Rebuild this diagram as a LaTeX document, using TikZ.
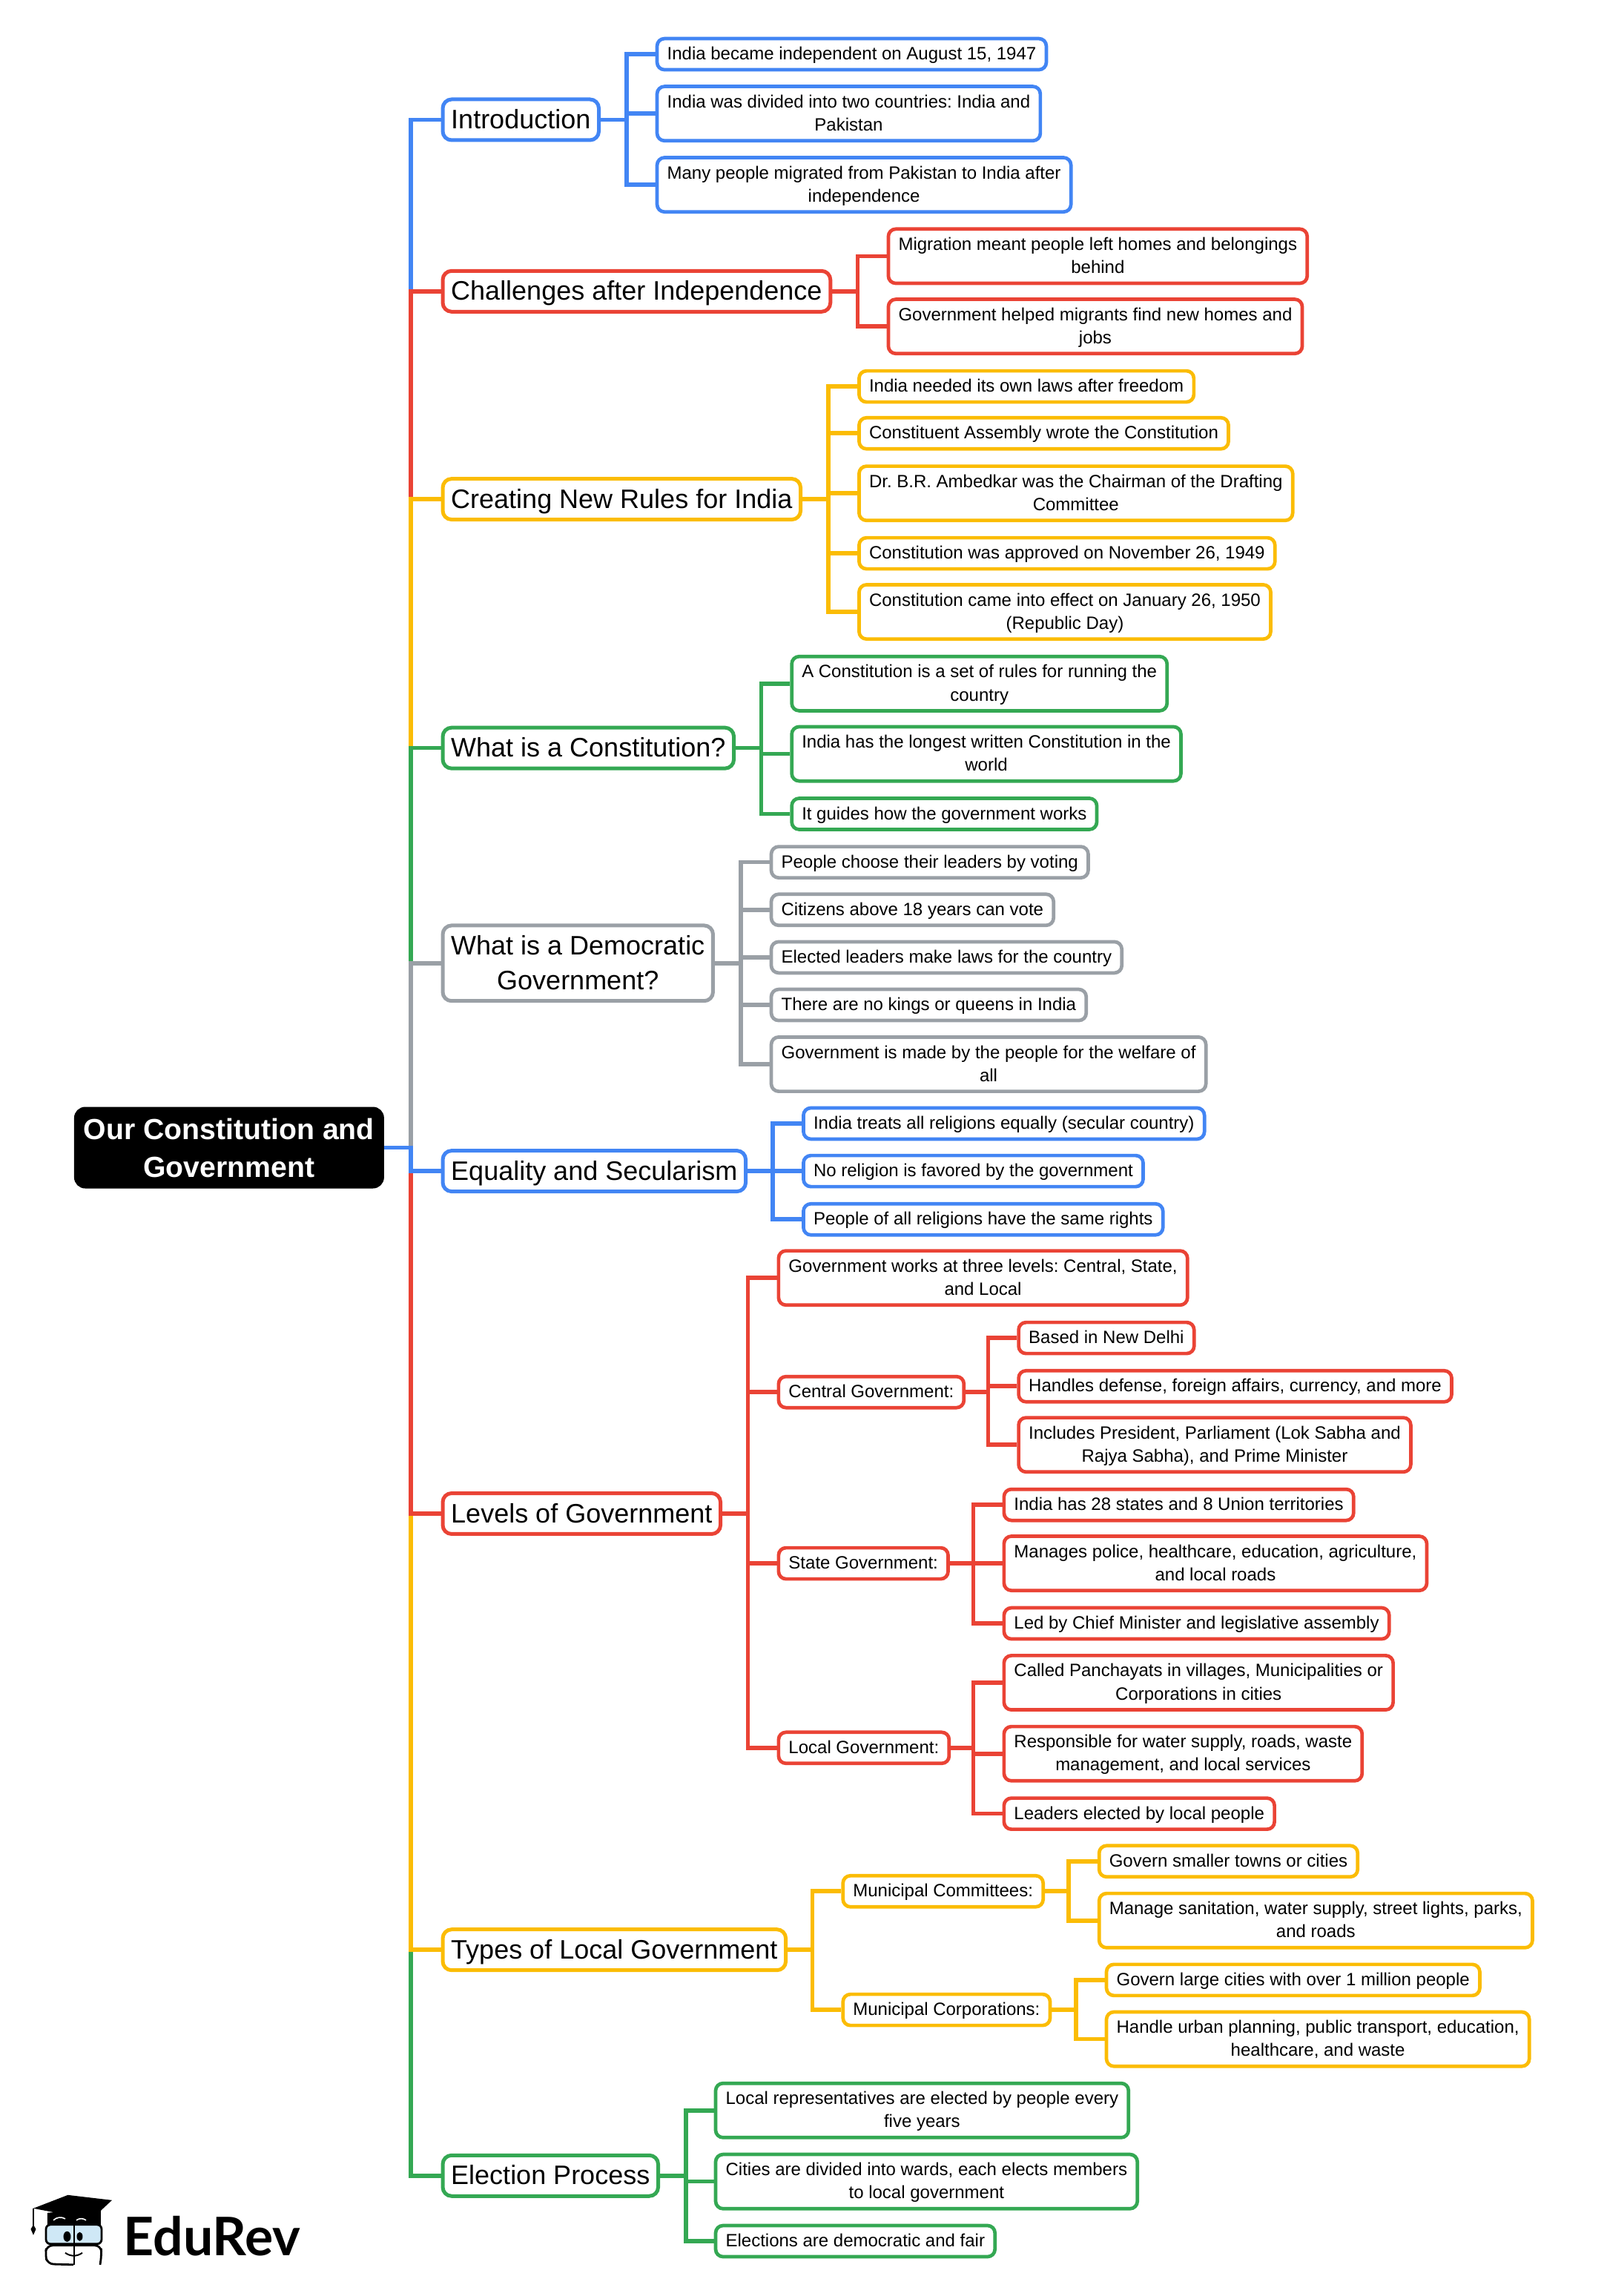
\documentclass[tikz,border=0pt]{standalone}
\usepackage{fontspec}
\setmainfont{Liberation Sans}
\newfontfamily\logofont{Lato}
\usetikzlibrary{positioning}
\definecolor{mmblue}{HTML}{4285F4}
\definecolor{mmred}{HTML}{EA4335}
\definecolor{mmyellow}{HTML}{FBBC04}
\definecolor{mmgreen}{HTML}{34A853}
\definecolor{mmgray}{HTML}{9AA0A6}
\definecolor{mmface}{HTML}{CFE8F6}
% first line height of topic and leaf boxes
\newcommand{\tl}{\rule{0pt}{16.1pt}}
\newcommand{\lf}{\rule{0pt}{10.3pt}}

\begin{document}
\frenchspacing
\begin{tikzpicture}[x=0.987pt, y=-0.987pt,
                rootbox/.style={draw=black, fill=black, text=white, line width=1pt, rounded corners=7pt, align=center,
                    inner xsep=3pt, inner ysep=1pt, font=\fontsize{19.6}{25.5}\selectfont\bfseries},
                topic/.style={draw=#1, fill=white, line width=2.5pt, rounded corners=6pt, anchor=west, align=center,
                    inner xsep=5.6pt, inner ysep=3.7pt, font=\fontsize{18}{23.4}\selectfont,
                    execute at end node={\rule[-4pt]{0pt}{4pt}}},
                leaf/.style={draw=#1, fill=white, line width=2.35pt, rounded corners=5pt, anchor=west, align=center,
                    inner xsep=6.8pt, inner ysep=4pt, font=\fontsize{12}{15.6}\selectfont,
                    execute at end node={\rule[-2.7pt]{0pt}{2.7pt}}},
                conn/.style={draw=#1, line width=2.8pt}]

    \useasboundingbox (0,0) rectangle (1097.4,1568.5);

    % Root
    \node[rootbox, minimum width=208pt, minimum height=54pt] (root) at (156.5,784) {Our Constitution and\\Government};
    \coordinate (trunk) at (280.8,784);

    % Main topics
    \node[topic=mmblue] (intro) at (301.2,81.8) {\tl Introduction};
    \node[topic=mmred] (chall) at (301.2,199) {\tl Challenges after Independence};
    \node[topic=mmyellow] (rules) at (301.2,341) {\tl Creating New Rules for India};
    \node[topic=mmgreen] (consti) at (301.2,511) {\tl What is a Constitution?};
    \node[topic=mmgray] (democ) at (301.2,658) {\tl What is a Democratic\\Government?};
    \node[topic=mmblue] (equal) at (301.2,800) {\tl Equality and Secularism};
    \node[topic=mmred] (levels) at (301.2,1034) {\tl Levels of Government};
    \node[topic=mmyellow] (types) at (301.2,1332) {\tl Types of Local Government};
    \node[topic=mmgreen] (elect) at (301.2,1486.3) {\tl Election Process};

    % Introduction
    \coordinate (introbar) at (428,81.8);
    \node[leaf=mmblue] (intro1) at (447.7,37) {\lf India became independent on August 15, 1947};
    \node[leaf=mmblue] (intro2) at (447.7,77.6) {\lf India was divided into two countries: India and\\Pakistan};
    \node[leaf=mmblue] (intro3) at (447.7,126.2) {\lf Many people migrated from Pakistan to India after\\independence};

    % Challenges
    \coordinate (challbar) at (586,199);
    \node[leaf=mmred] (chall1) at (605.7,175) {\lf Migration meant people left homes and belongings\\behind};
    \node[leaf=mmred] (chall2) at (605.7,223) {\lf Government helped migrants find new homes and\\jobs};

    % New rules
    \coordinate (rulesbar) at (566,341);
    \node[leaf=mmyellow] (rules1) at (585.7,264) {\lf India needed its own laws after freedom};
    \node[leaf=mmyellow] (rules2) at (585.7,296) {\lf Constituent Assembly wrote the Constitution};
    \node[leaf=mmyellow] (rules3) at (585.7,337) {\lf Dr. B.R. Ambedkar was the Chairman of the Drafting\\Committee};
    \node[leaf=mmyellow] (rules4) at (585.7,378) {\lf Constitution was approved on November 26, 1949};
    \node[leaf=mmyellow] (rules5) at (585.7,418) {\lf Constitution came into effect on January 26, 1950\\(Republic Day)};

    % Constitution
    \coordinate (constibar) at (520,511);
    \node[leaf=mmgreen] (consti1) at (539.7,467) {\lf A Constitution is a set of rules for running the\\country};
    \node[leaf=mmgreen] (consti2) at (539.7,515) {\lf India has the longest written Constitution in the\\world};
    \node[leaf=mmgreen] (consti3) at (539.7,556) {\lf It guides how the government works};

    % Democratic government
    \coordinate (democbar) at (506,658);
    \node[leaf=mmgray] (democ1) at (525.7,589) {\lf People choose their leaders by voting};
    \node[leaf=mmgray] (democ2) at (525.7,621.5) {\lf Citizens above 18 years can vote};
    \node[leaf=mmgray] (democ3) at (525.7,654) {\lf Elected leaders make laws for the country};
    \node[leaf=mmgray] (democ4) at (525.7,686.5) {\lf There are no kings or queens in India};
    \node[leaf=mmgray] (democ5) at (525.7,727) {\lf Government is made by the people for the welfare of\\all};

    % Equality
    \coordinate (equalbar) at (528,800);
    \node[leaf=mmblue] (equal1) at (547.7,767.5) {\lf India treats all religions equally (secular country)};
    \node[leaf=mmblue] (equal2) at (547.7,800) {\lf No religion is favored by the government};
    \node[leaf=mmblue] (equal3) at (547.7,833) {\lf People of all religions have the same rights};

    % Levels
    \coordinate (levelsbar) at (511,1034);
    \node[leaf=mmred] (levels1) at (530.7,873) {\lf Government works at three levels: Central, State,\\and Local};
    \node[leaf=mmred] (central) at (530.7,951) {\lf Central Government:};
    \node[leaf=mmred] (state) at (530.7,1068) {\lf State Government:};
    \node[leaf=mmred] (local) at (530.7,1194) {\lf Local Government:};

    \coordinate (centralbar) at (675,951);
    \node[leaf=mmred] (central1) at (694.7,914) {\lf Based in New Delhi};
    \node[leaf=mmred] (central2) at (694.7,947) {\lf Handles defense, foreign affairs, currency, and more};
    \node[leaf=mmred] (central3) at (694.7,987) {\lf Includes President, Parliament (Lok Sabha and\\Rajya Sabha), and Prime Minister};

    \coordinate (statebar) at (665,1068);
    \node[leaf=mmred] (state1) at (684.7,1028) {\lf India has 28 states and 8 Union territories};
    \node[leaf=mmred] (state2) at (684.7,1068) {\lf Manages police, healthcare, education, agriculture,\\and local roads};
    \node[leaf=mmred] (state3) at (684.7,1109) {\lf Led by Chief Minister and legislative assembly};

    \coordinate (localbar) at (665,1194);
    \node[leaf=mmred] (local1) at (684.7,1149.5) {\lf Called Panchayats in villages, Municipalities or\\Corporations in cities};
    \node[leaf=mmred] (local2) at (684.7,1198) {\lf Responsible for water supply, roads, waste\\management, and local services};
    \node[leaf=mmred] (local3) at (684.7,1239) {\lf Leaders elected by local people};

    % Local government types
    \coordinate (typesbar) at (555,1332);
    \node[leaf=mmyellow] (commit) at (574.7,1292) {\lf Municipal Committees:};
    \node[leaf=mmyellow] (corpor) at (574.7,1373) {\lf Municipal Corporations:};

    \coordinate (commitbar) at (730,1292);
    \node[leaf=mmyellow] (commit1) at (749.7,1271.5) {\lf Govern smaller towns or cities};
    \node[leaf=mmyellow] (commit2) at (749.7,1312) {\lf Manage sanitation, water supply, street lights, parks,\\and roads};

    \coordinate (corporbar) at (735,1373);
    \node[leaf=mmyellow] (corpor1) at (754.7,1352.6) {\lf Govern large cities with over 1 million people};
    \node[leaf=mmyellow] (corpor2) at (754.7,1393) {\lf Handle urban planning, public transport, education,\\healthcare, and waste};

    % Election
    \coordinate (electbar) at (468.5,1486.3);
    \node[leaf=mmgreen] (elect1) at (487.7,1441.7) {\lf Local representatives are elected by people every\\five years};
    \node[leaf=mmgreen] (elect2) at (487.7,1490.3) {\lf Cities are divided into wards, each elects members\\to local government};
    \node[leaf=mmgreen] (elect3) at (487.7,1531) {\lf Elections are democratic and fair};

    % Trunk: nearer branches go over farther ones
    \foreach \kid/\col in {intro/mmblue, chall/mmred, rules/mmyellow, consti/mmgreen, democ/mmgray,
                           elect/mmgreen, types/mmyellow, levels/mmred, equal/mmblue}
        \draw[conn=\col] (root.east) -- (trunk) |- (\kid.west);

    % Branches
    \foreach \parent/\col/\kids in {intro/mmblue/{intro1,intro2,intro3}, chall/mmred/{chall1,chall2},
                                 rules/mmyellow/{rules1,rules2,rules3,rules4,rules5},
                                 consti/mmgreen/{consti1,consti2,consti3},
                                 democ/mmgray/{democ1,democ2,democ3,democ4,democ5},
                                 equal/mmblue/{equal1,equal2,equal3},
                                 levels/mmred/{levels1,central,state,local},
                                 central/mmred/{central1,central2,central3},
                                 state/mmred/{state1,state2,state3},
                                 local/mmred/{local1,local2,local3},
                                 types/mmyellow/{commit,corpor},
                                 commit/mmyellow/{commit1,commit2},
                                 corpor/mmyellow/{corpor1,corpor2},
                                 elect/mmgreen/{elect1,elect2,elect3}}
        \foreach \kid in \kids
            \draw[conn=\col] (\parent.east) -- (\parent bar) |- (\kid.west);

    % Logo
    \begin{scope}[x=0.5pt, y=-0.5pt]
        \node[anchor=base west, inner sep=0pt, font=\fontsize{35.8}{40}\logofont\bfseries] (logotext) at (166,3042) {EduRev};
        \fill[black] (64,2984) -- (136,2978) -- (136,3000) -- (64,3000) -- cycle;
        \fill[mmface, draw=black, line width=1.4pt, rounded corners=3pt] (62,3000) rectangle (137,3026);
        \draw[black, line width=1.4pt, rounded corners=4pt] (99,3054) -- (64,3053) -- (61,3040) -- (63,3028) -- (136,3028) -- (137,3040) -- (135,3054);
        \draw[black, line width=1.4pt] (100,3000) -- (100,3054);
        \fill[black] (45,2978) -- (91.5,2960) -- (151,2967) -- (123,2993) -- cycle;
        \draw[white, line width=0.8pt] (72,2994) to[bend left=35] (88,2992);
        \draw[white, line width=0.8pt] (103,2994) to[bend left=35] (116,2994);
        \draw[black, line width=0.8pt] (45,2978) -- (45,3002);
        \fill[black] (45,3014) -- (41.5,3006) -- (45,3000) -- (48.5,3006) -- cycle;
        \fill[black] (90.5,3016) ellipse [x radius=5, y radius=7];
        \fill[black] (107.5,3016) ellipse [x radius=4, y radius=6];
        \draw[black, line width=1pt] (88,3038) to[bend right=35] (111,3038);
    \end{scope}
\end{tikzpicture}
\end{document}
